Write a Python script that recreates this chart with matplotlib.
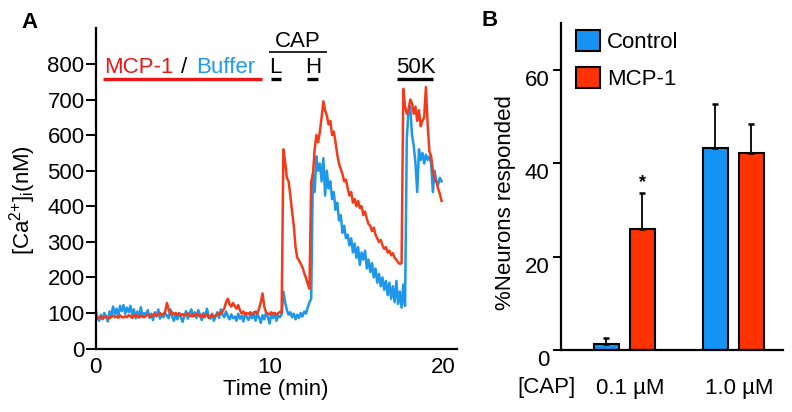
import numpy as np
import matplotlib
matplotlib.use('Agg')
import matplotlib.pyplot as plt
from matplotlib.patches import Patch

plt.rcParams['font.family'] = ['Liberation Sans', 'DejaVu Sans']
plt.rcParams['mathtext.fontset'] = 'custom'
plt.rcParams['mathtext.rm'] = 'Liberation Sans'
plt.rcParams['mathtext.it'] = 'Liberation Sans:italic'

# ---------------- Panel A data: [Ca2+]i traces (nM), sampled every 0.1 min ----------------
dt_min = 0.1
mcp1_trace = [
    92, 88, 86, 90, 84, 88, 91, 87, 85, 89,
    92, 88, 90, 86, 93, 89, 87, 91, 88, 94,
    90, 86, 92, 95, 89, 87, 93, 90, 88, 92,
    96, 91, 89, 94, 98, 92, 95, 100, 93, 97,
    104, 128, 110, 98, 102, 96, 100, 95, 99, 93,
    97, 92, 95, 99, 94, 90, 96, 92, 98, 94,
    90, 95, 88, 93, 97, 86, 91, 95, 89, 93,
    96, 100, 98, 105, 112, 130, 140, 125, 118, 128,
    120, 112, 122, 108, 98, 104, 95, 100, 97, 102,
    95, 99, 104, 98, 112, 130, 155, 118, 102, 98,
    96, 102, 98, 100, 95, 99, 103, 100,
    560, 525, 480, 470, 430, 385, 345, 285, 255, 248,
    238, 228, 212, 198, 182, 168, 470, 490, 560, 600,
    580, 610, 650, 695, 670, 655, 630, 640, 600, 610,
    580, 545, 520, 505, 490, 470, 475, 450, 430, 440,
    410, 420, 400, 415, 395, 400, 375, 385, 365, 350,
    345, 330, 340, 320, 310, 300, 305, 290, 280, 285,
    270, 275, 262, 268, 255, 250, 242, 238, 240, 730,
    680, 660, 670, 700, 690, 660, 680, 640, 670, 625,
    640, 650, 735, 630, 555, 540, 500, 480, 470, 450,
    435, 415,
]
buffer_trace = [
    110, 85, 78, 95, 82, 100, 88, 76, 104, 92,
    118, 96, 112, 90, 120, 105, 122, 98, 115, 102,
    120, 94, 110, 85, 104, 92, 116, 88, 100, 95,
    108, 86, 98, 80, 102, 90, 110, 84, 96, 88,
    100, 92, 85, 110, 90, 78, 95, 82, 100, 88,
    75, 92, 105, 84, 98, 110, 90, 102, 86, 108,
    95, 80, 100, 88, 112, 92, 84, 98, 78, 90,
    102, 86, 110, 95, 88, 104, 92, 82, 96, 85,
    90, 78, 98, 84, 92, 76, 100, 88, 80, 95,
    85, 102, 78, 96, 88, 72, 94, 82, 100, 90,
    70, 95, 85, 100, 78, 92, 88, 96,
    160, 130, 108, 95, 102, 88, 98, 82, 95, 86,
    100, 90, 104, 98, 115, 130, 140, 490, 440, 540,
    500, 520, 470, 535, 430, 500, 450, 470, 420, 440,
    390, 410, 360, 375, 325, 345, 310, 320, 290, 310,
    270, 295, 255, 285, 235, 270, 250, 275, 225, 250,
    215, 240, 200, 225, 185, 210, 175, 200, 165, 190,
    150, 185, 140, 175, 130, 190, 125, 160, 115, 180,
    120, 590, 670, 680, 600, 570, 520, 440, 560, 530,
    550, 520, 545, 530, 540, 520, 440, 500, 470, 460,
    480, 470,
]
time_min = np.arange(len(mcp1_trace)) * dt_min
a_yticks = [0, 100, 200, 300, 400, 500, 600, 700, 800]
a_xticks = [0, 10, 20]

# ---------------- Panel B data: % neurons responded ----------------
cap_labels = ['0.1 µM', '1.0 µM']
control_mean = [1.2, 43.2]
control_sem = [1.4, 9.5]
mcp1_mean = [26.0, 42.1]
mcp1_sem = [7.7, 6.4]
b_yticks = [0, 20, 40, 60]

# ---------------- styling ----------------
RED_TRACE = '#F43A18'
BLUE_TRACE = '#1E96EA'
RED_TEXT = '#EE1515'
BLUE_TEXT = '#1E9BEF'
BAR_BLUE = '#1593F2'
BAR_RED = '#FF3300'
FS = 16

fig = plt.figure(figsize=(7.92, 4.12), dpi=100)

# ================= Panel A =================
axA = fig.add_axes([0.1208, 0.1541, 0.4558, 0.777])
axA.plot(time_min, buffer_trace, color=BLUE_TRACE, lw=1.8)
axA.plot(time_min, mcp1_trace, color=RED_TRACE, lw=1.8)
axA.set_xlim(0, 20.77)
axA.set_ylim(0, 900)
axA.set_yticks(a_yticks)
axA.set_xticks(a_xticks)
for s in ['top', 'right']:
    axA.spines[s].set_visible(False)
for s in ['left', 'bottom']:
    axA.spines[s].set_linewidth(1.6)
axA.tick_params(axis='y', length=7, width=1.4, labelsize=FS, pad=1)
axA.tick_params(axis='x', length=0, labelsize=FS, pad=6)
axA.set_xlabel('Time (min)', fontsize=FS, labelpad=1)

fig.text(23 / 792, 1 - 200 / 412, r'[Ca$^{2{+}}$]$_{\rm i}$(nM)', rotation=90,
         ha='center', va='center', fontsize=FS)
fig.text(30 / 792, 1 - 22 / 412, 'A', fontsize=16, fontweight='bold', ha='center', va='center')

# annotations above the traces
axA.text(0.5, 791, 'MCP-1', color=RED_TEXT, fontsize=FS, ha='left', va='center')
axA.text(5.1, 791, '/', color='black', fontsize=FS, ha='center', va='center')
axA.text(5.8, 791, 'Buffer', color=BLUE_TEXT, fontsize=FS, ha='left', va='center')
axA.plot([0.42, 9.57], [757, 757], color=RED_TEXT, lw=2.4, clip_on=False, solid_capstyle='butt')
axA.text(11.63, 862, 'CAP', fontsize=FS, ha='center', va='center')
axA.plot([9.97, 13.3], [834, 834], color='black', lw=1.2, clip_on=False, solid_capstyle='butt')
axA.text(10.35, 791, 'L', fontsize=FS, ha='center', va='center')
axA.plot([10.07, 10.66], [757, 757], color='black', lw=2.4, clip_on=False, solid_capstyle='butt')
axA.text(12.5, 791, 'H', fontsize=FS, ha='center', va='center')
axA.plot([12.14, 12.8], [757, 757], color='black', lw=2.4, clip_on=False, solid_capstyle='butt')
axA.text(18.4, 791, '50K', fontsize=FS, ha='center', va='center')
axA.plot([17.32, 19.39], [757, 757], color='black', lw=2.4, clip_on=False, solid_capstyle='butt')

# ================= Panel B =================
axB = fig.add_axes([0.7079, 0.1505, 0.2811, 0.793])
x = np.arange(len(cap_labels))
off = 0.165
w = 0.23
axB.bar(x - off, control_mean, w, color=BAR_BLUE, edgecolor='black', linewidth=1.5,
        yerr=[np.zeros(len(control_sem)), control_sem], capsize=2.2,
        error_kw=dict(elinewidth=1.3, capthick=1.8, ecolor='black'), zorder=2)
axB.bar(x + off, mcp1_mean, w, color=BAR_RED, edgecolor='black', linewidth=1.5,
        yerr=[np.zeros(len(mcp1_sem)), mcp1_sem], capsize=2.2,
        error_kw=dict(elinewidth=1.3, capthick=1.8, ecolor='black'), zorder=2)
axB.text(x[0] + off, mcp1_mean[0] + mcp1_sem[0] + 0.4, '*', fontsize=13, ha='center', va='bottom',
         fontweight='bold')
axB.set_xlim(-0.584, 1.458)
axB.set_ylim(0, 70)
axB.set_yticks(b_yticks)
axB.set_xticks(x + 0.05)
axB.set_xticklabels(cap_labels)
for s in ['top', 'right']:
    axB.spines[s].set_visible(False)
for s in ['left', 'bottom']:
    axB.spines[s].set_linewidth(1.6)
axB.tick_params(axis='y', length=6, width=1.4, labelsize=FS, pad=2)
axB.tick_params(axis='x', length=0, labelsize=FS, pad=20)
for lab in axB.get_yticklabels():
    lab.set_verticalalignment('top')
axB.text(546.7 / 792, 1 - 388 / 412, '[CAP]', transform=fig.transFigure, fontsize=FS,
         ha='center', va='center')
fig.text(506 / 792, 1 - 203 / 412, '%Neurons responded', rotation=90,
         ha='center', va='center', fontsize=FS)
fig.text(490 / 792, 1 - 20 / 412, 'B', fontsize=16, fontweight='bold', ha='center', va='center')

handles = [Patch(facecolor=BAR_BLUE, edgecolor='black', linewidth=1.5, label='Control'),
           Patch(facecolor=BAR_RED, edgecolor='black', linewidth=1.5, label='MCP-1')]
axB.legend(handles=handles, loc='upper left', bbox_to_anchor=(576 / 792, 1 - 30 / 412),
           bbox_transform=fig.transFigure, frameon=False, fontsize=FS,
           handlelength=1.1, handleheight=1.05, handletextpad=0.3, labelspacing=0.65,
           borderpad=0, borderaxespad=0)

fig.savefig('out.png', dpi=100)
